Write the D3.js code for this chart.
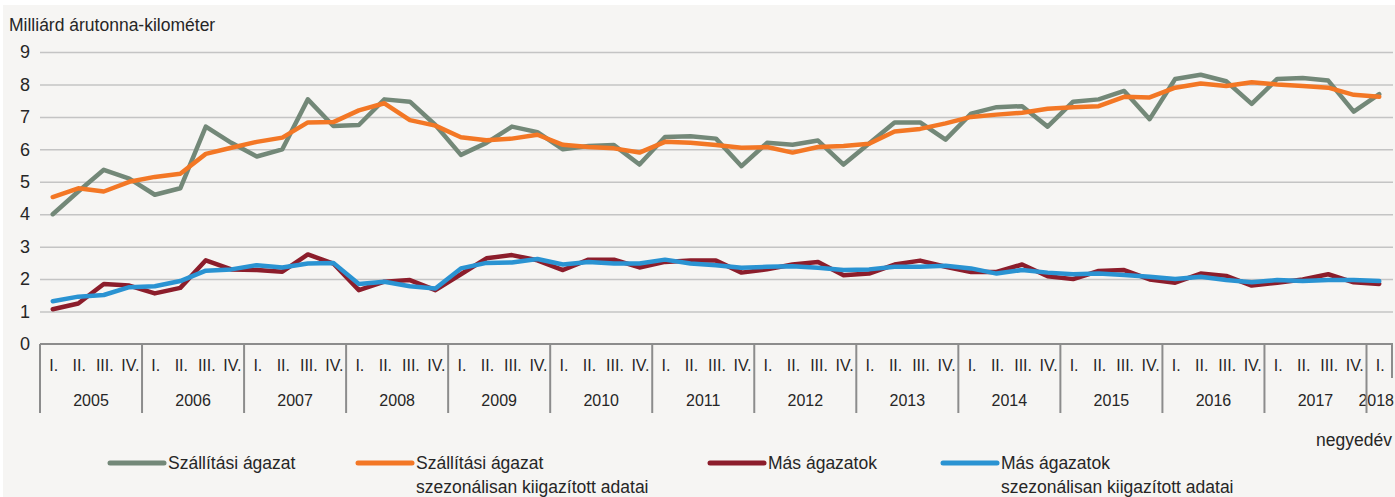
<!DOCTYPE html>
<html>
<head>
<meta charset="utf-8">
<script src="https://cdn.jsdelivr.net/npm/d3@7"></script>
<style>
  html, body { margin: 0; padding: 0; background: #ffffff; }
  svg { display: block; font-family: "Liberation Sans", Arial, sans-serif; }
</style>
</head>
<body>
<div class="chart__container"></div>
<script>
const years = [2005, 2006, 2007, 2008, 2009, 2010, 2011, 2012, 2013, 2014, 2015, 2016, 2017, 2018];
const quarterLabels = ["I.", "II.", "III.", "IV."];
const yTicks = [0, 1, 2, 3, 4, 5, 6, 7, 8, 9];

// Szállítási ágazat
const szallitasi = [
  4.0, 4.7, 5.37, 5.1,
  4.6, 4.8, 6.7, 6.2,
  5.78, 6.0, 7.54, 6.72,
  6.75, 7.54, 7.47, 6.75,
  5.83, 6.2, 6.7, 6.53,
  6.0, 6.1, 6.13, 5.53,
  6.38, 6.4, 6.33, 5.48,
  6.2, 6.14, 6.27, 5.53,
  6.18, 6.83, 6.83, 6.3,
  7.1, 7.3, 7.33, 6.7,
  7.47, 7.54, 7.8, 6.93,
  8.17, 8.3, 8.1, 7.4,
  8.17, 8.2, 8.12, 7.16,
  7.7
];
// Szállítási ágazat szezonálisan kiigazított adatai
const szallitasiSA = [
  4.53, 4.8, 4.7, 5.0,
  5.15, 5.25, 5.86, 6.05,
  6.23, 6.36, 6.83, 6.84,
  7.2, 7.42, 6.9, 6.73,
  6.37, 6.28, 6.33, 6.45,
  6.14, 6.07, 6.03, 5.9,
  6.23, 6.2, 6.13, 6.05,
  6.07, 5.9, 6.07, 6.1,
  6.17, 6.55, 6.63, 6.8,
  7.0, 7.07, 7.13, 7.25,
  7.3, 7.33, 7.62, 7.6,
  7.9, 8.03, 7.95, 8.07,
  8.0, 7.95, 7.9, 7.68,
  7.62
];
// Más ágazatok
const mas = [
  1.07, 1.25, 1.85, 1.8,
  1.56, 1.73, 2.58, 2.3,
  2.28, 2.23, 2.76, 2.48,
  1.66, 1.92, 1.97, 1.66,
  2.15, 2.64, 2.74, 2.58,
  2.28, 2.6, 2.6, 2.36,
  2.53, 2.57, 2.57, 2.2,
  2.3, 2.45, 2.53, 2.12,
  2.17, 2.45, 2.57, 2.38,
  2.22, 2.22, 2.45, 2.09,
  2.0, 2.25, 2.28, 1.99,
  1.89, 2.17, 2.1, 1.8,
  1.89, 1.99, 2.15, 1.9,
  1.85
];
// Más ágazatok szezonálisan kiigazított adatai
const masSA = [
  1.32, 1.46, 1.51, 1.75,
  1.78, 1.94, 2.26, 2.3,
  2.43, 2.36, 2.48, 2.5,
  1.85, 1.92, 1.78, 1.71,
  2.33, 2.5, 2.51, 2.62,
  2.45, 2.53, 2.48, 2.48,
  2.6, 2.48, 2.43, 2.35,
  2.38, 2.4, 2.35, 2.28,
  2.3, 2.38, 2.38, 2.41,
  2.33, 2.17, 2.28, 2.2,
  2.15, 2.17, 2.13, 2.07,
  2.0, 2.07, 1.97, 1.9,
  1.97, 1.94, 1.97, 1.97,
  1.94
];

const series = [
  { name: ["Szállítási ágazat"], values: szallitasi, color: "#738878", lx: 110 },
  { name: ["Szállítási ágazat", "szezonálisan kiigazított adatai"], values: szallitasiSA, color: "#f37725", lx: 358 },
  { name: ["Más ágazatok"], values: mas, color: "#8c1d2b", lx: 710 },
  { name: ["Más ágazatok", "szezonálisan kiigazított adatai"], values: masSA, color: "#2a93d2", lx: 943 }
];

const width = 1395, height = 497;

// quarter keys like "2005-0"
const quarters = [];
years.forEach((y) => quarterLabels.forEach((q, i) => quarters.push({ year: y, q: i, key: y + "-" + i })));
const keys = quarters.slice(0, szallitasi.length).map((d) => d.key);

const svg = d3.select(".chart__container")
  .append("svg")
  .attr("width", width)
  .attr("height", height);

svg.append("rect")
  .attr("x", 3).attr("y", 5)
  .attr("width", width - 3).attr("height", height - 5)
  .attr("fill", "#f6f5f3");

const x = d3.scaleBand().domain(keys).range([40, 1392]).padding(0);
const y = d3.scaleLinear().domain([0, 9]).range([344, 52]);

// gridlines + y labels
const yAxis = svg.append("g")
  .attr("transform", "translate(40,0)")
  .call(d3.axisLeft(y).tickValues(yTicks).tickSize(-(1393 - 40)).tickPadding(10));
yAxis.select(".domain").remove();
yAxis.selectAll(".tick line").attr("stroke", "#c4c4c4").attr("stroke-width", 1.5);
yAxis.selectAll(".tick text")
  .attr("fill", "#262626")
  .attr("font-size", "18px")
  .attr("font-family", "Liberation Sans, Arial, sans-serif");
yAxis.selectAll(".tick").filter((d) => d === 0).select("line").attr("stroke", "none");

svg.append("text")
  .attr("x", 9).attr("y", 31)
  .attr("font-size", "17.5px")
  .attr("fill", "#262626")
  .text("Milliárd árutonna-kilométer");

// category axis (multi-level)
const axisG = svg.append("g");
axisG.append("line")
  .attr("x1", 40).attr("x2", 1393)
  .attr("y1", 344).attr("y2", 344)
  .attr("stroke", "#8c8c8c").attr("stroke-width", 2);

axisG.selectAll(".qlab")
  .data(quarters.slice(0, keys.length))
  .enter().append("text")
  .attr("class", "qlab")
  .attr("x", (d) => x(d.key) + x.bandwidth() / 2 + 1)
  .attr("y", 371)
  .attr("text-anchor", "middle")
  .attr("font-size", "16px")
  .attr("fill", "#262626")
  .text((d) => quarterLabels[d.q]);

// year labels; the last (partial) year is kept inside the right edge
axisG.selectAll(".ylab")
  .data(years)
  .enter().append("text")
  .attr("class", "ylab")
  .attr("x", (d) => {
    const ks = keys.filter((k) => k.startsWith(d + "-"));
    if (ks.length < 4) return 1394;
    return (x(ks[0]) + x(ks[ks.length - 1]) + x.bandwidth()) / 2;
  })
  .attr("y", 406)
  .attr("text-anchor", (d) => keys.filter((k) => k.startsWith(d + "-")).length < 4 ? "end" : "middle")
  .attr("font-size", "16px")
  .attr("fill", "#262626")
  .text((d) => d);

axisG.selectAll(".sep")
  .data(years)
  .enter().append("line")
  .attr("class", "sep")
  .attr("x1", (d) => x(d + "-0")).attr("x2", (d) => x(d + "-0"))
  .attr("y1", 344).attr("y2", 413)
  .attr("stroke", "#8c8c8c").attr("stroke-width", 2);

axisG.append("line")
  .attr("x1", 1392).attr("x2", 1392)
  .attr("y1", 344).attr("y2", 378)
  .attr("stroke", "#8c8c8c").attr("stroke-width", 2);

svg.append("text")
  .attr("x", 1392).attr("y", 446)
  .attr("text-anchor", "end")
  .attr("font-size", "17.5px")
  .attr("fill", "#262626")
  .text("negyedév");

// lines
const line = d3.line()
  .x((d, i) => x(keys[i]) + x.bandwidth() / 2)
  .y((d) => y(d));

series.forEach((s) => {
  svg.append("path")
    .datum(s.values)
    .attr("fill", "none")
    .attr("stroke", s.color)
    .attr("stroke-width", 4.5)
    .attr("stroke-linejoin", "round")
    .attr("stroke-linecap", "round")
    .attr("d", line);
});

// legend
const legend = svg.append("g");
series.forEach((s) => {
  legend.append("line")
    .attr("x1", s.lx).attr("x2", s.lx + 54)
    .attr("y1", 463).attr("y2", 463)
    .attr("stroke", s.color).attr("stroke-width", 5)
    .attr("stroke-linecap", "round");
  s.name.forEach((t, j) => {
    legend.append("text")
      .attr("x", s.lx + 58).attr("y", 469 + j * 24)
      .attr("font-size", "17.5px")
      .attr("fill", "#262626")
      .text(t);
  });
});
</script>
</body>
</html>
